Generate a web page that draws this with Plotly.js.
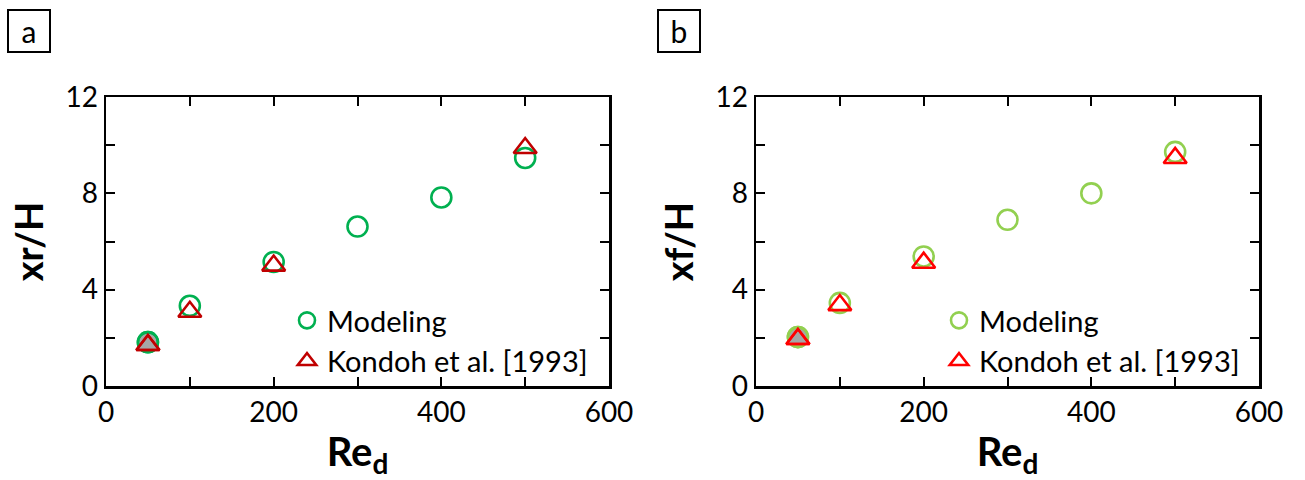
<!DOCTYPE html>
<html>
<head>
<meta charset="utf-8">
<script src="https://cdn.plot.ly/plotly-3.0.1.min.js"></script>
<style>body{margin:0;padding:0;background:#fff}#chart{width:1305px;height:480px}</style>
</head>
<body>
<div id="chart"></div>
<script>
// Data
const reA = [50, 100, 200, 300, 400, 500];
const xrModel = [1.82, 3.33, 5.15, 6.62, 7.83, 9.47];
const reKondohA = [50, 100, 200, 500];
const xrKondoh = [1.70, 3.08, 5.00, 9.88];

const reB = [50, 100, 200, 300, 400, 500];
const xfModel = [2.03, 3.45, 5.38, 6.90, 8.00, 9.72];
const reKondohB = [50, 100, 200, 500];
const xfKondoh = [1.95, 3.36, 5.12, 9.47];

const xTickVals = [0, 200, 400, 600];
const yTickVals = [0, 4, 8, 12];

const FONT = 'Lato, "Open Sans", sans-serif';
const grey = '#a6a6a6';

function openTrace(x, y, sym, color, name, xa, ya, leg) {
  return {x: x, y: y, type: 'scatter', mode: 'markers', name: name,
    xaxis: xa, yaxis: ya, legend: leg,
    marker: {symbol: sym, size: 20, color: color, line: {width: 2.6, color: color}}};
}
function fillTrace(x, y, sym, color, xa, ya) {
  return {x: [x[0]], y: [y[0]], type: 'scatter', mode: 'markers', showlegend: false,
    xaxis: xa, yaxis: ya, hoverinfo: 'skip',
    marker: {symbol: sym, size: 20, color: grey, line: {width: 2.6, color: color}}};
}

const gA = '#00b050', rA = '#c00000', gB = '#92d050', rB = '#ff0000';

const traces = [
  fillTrace(reA, xrModel, 'circle', gA, 'x', 'y'),
  openTrace(reA, xrModel, 'circle-open', gA, 'Modeling', 'x', 'y', 'legend'),
  fillTrace(reKondohA, xrKondoh, 'triangle-up', rA, 'x', 'y'),
  openTrace(reKondohA, xrKondoh, 'triangle-up-open', rA, 'Kondoh et al. [1993]', 'x', 'y', 'legend'),
  fillTrace(reB, xfModel, 'circle', gB, 'x2', 'y2'),
  openTrace(reB, xfModel, 'circle-open', gB, 'Modeling', 'x2', 'y2', 'legend2'),
  fillTrace(reKondohB, xfKondoh, 'triangle-up', rB, 'x2', 'y2'),
  openTrace(reKondohB, xfKondoh, 'triangle-up-open', rB, 'Kondoh et al. [1993]', 'x2', 'y2', 'legend2')
];

function xAxis(domain, anchor) {
  return {domain: domain, anchor: anchor, range: [0, 600], tickvals: xTickVals,
    ticks: 'inside', ticklen: 9, tickwidth: 2, tickcolor: '#000',
    minor: {dtick: 100, tick0: 0, ticks: 'inside', ticklen: 9, tickwidth: 2, tickcolor: '#000'},
    showline: true, linewidth: 2.5, linecolor: '#000', mirror: 'ticks',
    showgrid: false, zeroline: false, automargin: false,
    tickfont: {family: FONT, size: 28, color: '#000'},
    title: {text: '<b>Re<sub>d</sub></b>', font: {family: FONT, size: 40, color: '#000'}, standoff: 16}};
}
function yAxis(domain, anchor, label) {
  return {domain: domain, anchor: anchor, range: [0, 12], tickvals: yTickVals,
    ticks: 'inside', ticklen: 9, tickwidth: 2, tickcolor: '#000',
    minor: {dtick: 2, tick0: 0, ticks: 'inside', ticklen: 9, tickwidth: 2, tickcolor: '#000'},
    showline: true, linewidth: 2.5, linecolor: '#000', mirror: 'ticks',
    showgrid: false, zeroline: false, automargin: false,
    tickfont: {family: FONT, size: 28, color: '#000'},
    title: {text: '<b>' + label + '</b>', font: {family: FONT, size: 38, color: '#000'}, standoff: 10}};
}

const legendBase = {font: {family: FONT, size: 29, color: '#000'}, bgcolor: 'rgba(0,0,0,0)',
  borderwidth: 0, xanchor: 'left', yanchor: 'top', tracegroupgap: 0, itemclick: false};

const layout = {
  width: 1305, height: 480,
  margin: {l: 0, r: 0, t: 0, b: 0},
  paper_bgcolor: '#fff', plot_bgcolor: '#fff',
  font: {family: FONT, color: '#000'},
  xaxis: xAxis([106/1305, 609/1305], 'y'),
  yaxis: yAxis([1-386/480, 1-97/480], 'x', 'xr/H'),
  xaxis2: xAxis([756/1305, 1259/1305], 'y2'),
  yaxis2: yAxis([1-386/480, 1-97/480], 'x2', 'xf/H'),
  legend: Object.assign({x: 287/1305, y: 1-295/480}, legendBase),
  legend2: Object.assign({x: 939/1305, y: 1-295/480}, legendBase),
  annotations: [
    {text: 'a', xref: 'paper', yref: 'paper', x: 29/1305, y: 1-31/480, xanchor: 'center', yanchor: 'middle',
     showarrow: false, font: {family: FONT, size: 30, color: '#000'}, bordercolor: '#000', borderwidth: 2,
     width: 40, height: 40, borderpad: 0},
    {text: 'b', xref: 'paper', yref: 'paper', x: 679/1305, y: 1-31/480, xanchor: 'center', yanchor: 'middle',
     showarrow: false, font: {family: FONT, size: 30, color: '#000'}, bordercolor: '#000', borderwidth: 2,
     width: 40, height: 40, borderpad: 0}
  ],
  showlegend: true
};

Plotly.newPlot('chart', traces, layout, {staticPlot: true, displayModeBar: false});
</script>
</body>
</html>
